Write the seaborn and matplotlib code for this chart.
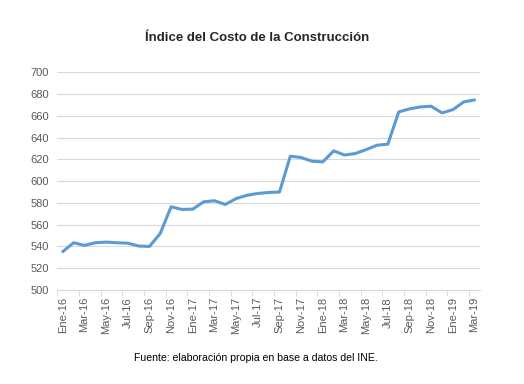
import pandas as pd
import matplotlib
matplotlib.use("Agg")
import matplotlib.pyplot as plt
import seaborn as sns

# Monthly data, Ene-16 .. Mar-19
meses = ["Ene", "Feb", "Mar", "Abr", "May", "Jun", "Jul", "Ago", "Sep", "Oct", "Nov", "Dic"]
periodos = [f"{meses[i % 12]}-{16 + i // 12}" for i in range(39)]
indice = [535.2, 543.4, 541.0, 543.4, 544.0, 543.4, 543.0, 540.4, 540.0, 552.0,
          576.5, 574.0, 574.3, 581.0, 582.0, 578.6, 584.0, 587.0, 588.7, 589.6,
          590.0, 623.0, 621.7, 618.3, 617.7, 627.8, 624.0, 625.4, 629.0, 633.0,
          634.0, 663.6, 666.4, 668.2, 668.8, 662.7, 665.7, 672.8, 674.6]

df = pd.DataFrame({"pos": range(len(periodos)), "periodo": periodos, "indice": indice})

sns.set_style("white")
plt.rcParams["font.family"] = ["Liberation Sans", "DejaVu Sans"]

fig = plt.figure(figsize=(5.24, 3.84), dpi=100)
ax = fig.add_axes([0.1094, 0.2448, 0.8066, 0.5669])

sns.lineplot(data=df, x="pos", y="indice", ax=ax, color="#5B9BD5", linewidth=2.2,
             solid_joinstyle="round", solid_capstyle="round")

# Axes styling
ax.set_ylim(500, 700)
ax.set_yticks(range(500, 701, 20))
ax.set_xlim(-0.5, len(periodos) - 0.5)
ax.yaxis.grid(True, color="#D9D9D9", linewidth=0.8)
ax.set_axisbelow(True)
for side in ["top", "right", "left"]:
    ax.spines[side].set_visible(False)
ax.spines["bottom"].set_color("#D9D9D9")

# Labels every two months, tick marks at category boundaries
ax.set_xticks(df["pos"][::2])
ax.set_xticklabels(df["periodo"][::2], rotation=90)
ax.set_xticks([p - 0.5 for p in range(0, len(periodos) + 1, 2)], minor=True)
ax.tick_params(axis="x", which="major", length=0, pad=5, labelsize=8, labelcolor="#595959")
ax.tick_params(axis="x", which="minor", length=4, color="#D9D9D9", direction="out", bottom=True)
ax.tick_params(axis="y", length=0, pad=6, labelsize=8, labelcolor="#595959")
ax.set_xlabel("")
ax.set_ylabel("")

fig.text(0.49, 0.90, "Índice del Costo de la Construcción", ha="center", va="center",
         fontsize=9.5, fontweight="bold", color="#262626")
fig.text(0.489, 0.067, "Fuente: elaboración propia en base a datos del INE.", ha="center",
         va="center", fontsize=7.6, color="black")

fig.savefig("out.png", dpi=100, facecolor="white")
